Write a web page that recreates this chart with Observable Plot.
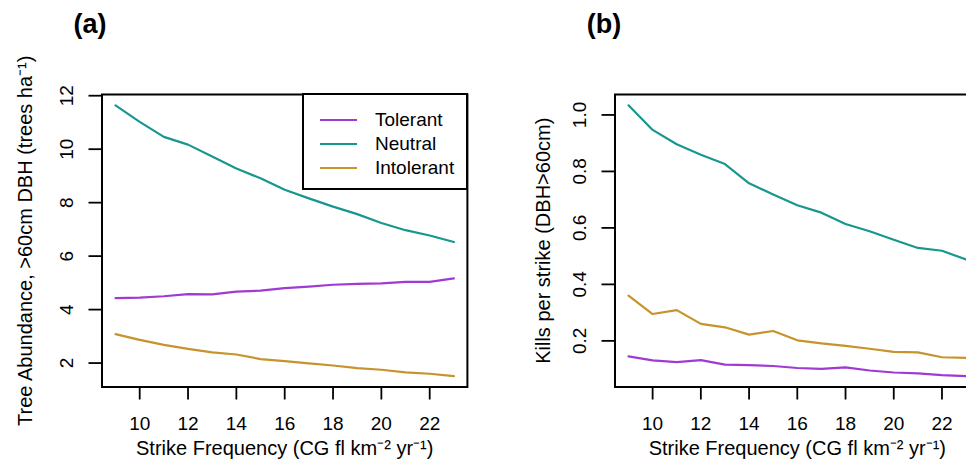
<!DOCTYPE html>
<html>
<head>
<meta charset="utf-8">
<script src="https://cdn.jsdelivr.net/npm/d3@7"></script>
<script src="https://cdn.jsdelivr.net/npm/@observablehq/plot@0.6"></script>
<style>
  html, body { margin: 0; padding: 0; background: #fff; }
  body { width: 966px; height: 467px; overflow: hidden; position: relative;
         font-family: "Liberation Sans", Arial, Helvetica, sans-serif; }
  .panel { position: absolute; top: 0; }
  .ptitle { position: absolute; font-weight: bold; font-size: 27px; line-height: 27px;
            width: 80px; text-align: center; top: 11px; color: #000; }
  .legend { position: absolute; box-sizing: border-box; border: 2px solid #000; background: #fff; }
  .legend .row { position: absolute; left: 0; height: 24px; width: 100%; }
  .legend .sw { position: absolute; left: 16px; width: 37px; height: 0; top: 11px; border-top: 2px solid; }
  .legend .lb { position: absolute; left: 71px; top: 0; font-size: 19px; line-height: 24px; color: #000; }
</style>
</head>
<body>
<div id="root"></div>
<script>
// ---- data ----
const strikeFreq = [9, 10, 11, 12, 13, 14, 15, 16, 17, 18, 19, 20, 21, 22, 23];
const seriesNames = ["Tolerant", "Neutral", "Intolerant"];
const seriesColors = ["#a03ad2", "#17978e", "#c6932c"];

// (a) Tree abundance >60cm DBH (trees/ha)
const abundTolerant   = [4.43, 4.45, 4.50, 4.58, 4.57, 4.67, 4.71, 4.80, 4.86, 4.93, 4.96, 4.98, 5.04, 5.04, 5.17];
const abundNeutral    = [11.64, 11.02, 10.46, 10.17, 9.73, 9.28, 8.91, 8.48, 8.16, 7.85, 7.57, 7.24, 6.97, 6.77, 6.53];
const abundIntolerant = [3.08, 2.87, 2.68, 2.53, 2.40, 2.32, 2.15, 2.07, 1.99, 1.91, 1.81, 1.75, 1.65, 1.60, 1.51];

// (b) Kills per strike (DBH>60cm)
const killsTolerant   = [0.145, 0.131, 0.125, 0.132, 0.116, 0.114, 0.111, 0.104, 0.101, 0.106, 0.095, 0.088, 0.085, 0.079, 0.075];
const killsNeutral    = [1.034, 0.947, 0.896, 0.859, 0.826, 0.758, 0.718, 0.680, 0.654, 0.614, 0.588, 0.558, 0.529, 0.519, 0.488];
const killsIntolerant = [0.360, 0.295, 0.309, 0.260, 0.248, 0.222, 0.235, 0.202, 0.191, 0.182, 0.172, 0.161, 0.159, 0.142, 0.140];

const xTicks = [10, 12, 14, 16, 18, 20, 22];
const yTicksA = [2, 4, 6, 8, 10, 12];
const yTicksB = [0.2, 0.4, 0.6, 0.8, 1.0];

const titleA = "(a)";
const titleB = "(b)";
const xLabel = "Strike Frequency (CG fl km\u207B\u00B2 yr\u207B\u00B9)";
const yLabelA = "Tree Abundance, >60cm DBH (trees ha\u207B\u00B9)";
const yLabelB = "Kills per strike (DBH>60cm)";

// ---- helpers ----
const FONT = '"Liberation Sans", Arial, Helvetica, sans-serif';
function rPad([lo, hi]) { const d = (hi - lo) * 0.04; return [lo - d, hi + d]; }

function makePanel(values, opts) {
  const data = [];
  seriesNames.forEach((s, i) => strikeFreq.forEach((x, j) => data.push({x, y: values[i][j], s})));
  return Plot.plot({
    width: opts.width,
    height: 467,
    marginLeft: opts.marginLeft,
    marginRight: opts.marginRight,
    marginTop: 94,
    marginBottom: 80.5,
    style: {fontFamily: FONT, fontSize: "19px", color: "#000", background: "transparent", overflow: "visible"},
    x: {domain: rPad(d3.extent(strikeFreq))},
    y: {domain: rPad(d3.extent(values.flat()))},
    color: {domain: seriesNames, range: seriesColors},
    marks: [
      Plot.axisX({ticks: xTicks, tickSize: 13, tickPadding: 16.5, strokeWidth: 1.8, fontSize: 19, label: null}),
      Plot.axisY({ticks: opts.yTicks, tickFormat: opts.yFmt, tickSize: 13, tickPadding: 22.5,
                  tickRotate: -90, textAnchor: "middle", lineAnchor: "middle",
                  strokeWidth: 1.8, fontSize: 19, label: null}),
      Plot.line(data, {x: "x", y: "y", z: "s", stroke: "s", strokeWidth: 2.2}),
      Plot.frame({stroke: "#000", strokeWidth: 2}),
      Plot.text([xLabel], {text: d => d, frameAnchor: "bottom", dy: 68, fontSize: 20}),
      Plot.text([opts.yLabel], {text: d => d, frameAnchor: "left", textAnchor: "middle",
                                dx: -opts.yLabOffset, rotate: -90, fontSize: 20})
    ]
  });
}

const root = document.getElementById("root");

const pa = makePanel([abundTolerant, abundNeutral, abundIntolerant], {
  width: 483, marginLeft: 101.5, marginRight: 16.1, yTicks: yTicksA, yFmt: d => String(d),
  yLabel: yLabelA, yLabOffset: 76
});
pa.classList.add("panel"); pa.style.left = "0px";
root.appendChild(pa);

const pb = makePanel([killsTolerant, killsNeutral, killsIntolerant], {
  width: 520, marginLeft: 131.5, marginRight: 23.9, yTicks: yTicksB, yFmt: d => d.toFixed(1),
  yLabel: yLabelB, yLabOffset: 71
});
pb.classList.add("panel"); pb.style.left = "483px";
root.appendChild(pb);

// titles
for (const [t, cx] of [[titleA, 90], [titleB, 604]]) {
  const d = document.createElement("div");
  d.className = "ptitle"; d.textContent = t; d.style.left = (cx - 40) + "px";
  root.appendChild(d);
}

// legend (panel a)
const lg = document.createElement("div");
lg.className = "legend";
Object.assign(lg.style, {left: "302px", top: "93px", width: "166px", height: "97px"});
seriesNames.forEach((s, i) => {
  const row = document.createElement("div");
  row.className = "row"; row.style.top = (13 + i * 23.8) + "px";
  const sw = document.createElement("div"); sw.className = "sw"; sw.style.borderColor = seriesColors[i];
  const lb = document.createElement("div"); lb.className = "lb"; lb.textContent = s;
  row.appendChild(sw); row.appendChild(lb); lg.appendChild(row);
});
root.appendChild(lg);
</script>
</body>
</html>
